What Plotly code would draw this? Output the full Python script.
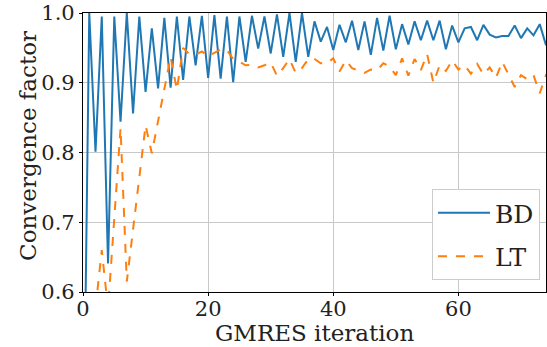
import plotly.graph_objects as go

iterations = list(range(0, 76))

bd = [0.30, 1.000, 0.801, 0.995, 0.641, 0.995, 0.844, 1.000, 0.856, 0.995,
      0.887, 0.978, 0.892, 0.993, 0.893, 0.995, 0.904, 0.995, 0.925, 0.996,
      0.907, 0.997, 0.906, 0.995, 0.901, 0.995, 0.930, 0.996, 0.949, 0.995,
      0.942, 0.998, 0.937, 1.000, 0.930, 1.000, 0.937, 0.988, 0.959, 0.980,
      0.947, 0.983, 0.958, 0.989, 0.947, 0.988, 0.940, 0.993, 0.946, 0.996,
      0.948, 0.984, 0.955, 0.988, 0.961, 0.989, 0.961, 0.989, 0.948, 0.982,
      0.958, 0.978, 0.980, 0.961, 0.983, 0.969, 0.965, 0.967, 0.967, 0.982,
      0.964, 0.978, 0.968, 0.984, 0.954, 0.970]

lt = [0.45, 0.55, 0.576, 0.660, 0.576, 0.710, 0.835, 0.615, 0.690, 0.763,
      0.839, 0.799, 0.846, 0.890, 0.937, 0.890, 0.950, 0.941, 0.940, 0.945,
      0.938, 0.943, 0.948, 0.947, 0.934, 0.930, 0.925, 0.926, 0.922, 0.925,
      0.929, 0.910, 0.921, 0.934, 0.914, 0.921, 0.934, 0.934, 0.928, 0.928,
      0.935, 0.916, 0.932, 0.921, 0.918, 0.914, 0.919, 0.918, 0.928, 0.923,
      0.911, 0.935, 0.910, 0.934, 0.918, 0.941, 0.900, 0.925, 0.917, 0.932,
      0.919, 0.925, 0.913, 0.927, 0.912, 0.922, 0.907, 0.930, 0.912, 0.894,
      0.911, 0.905, 0.911, 0.885, 0.911, 0.915]

x_ticks = [0, 20, 40, 60]
y_ticks = [0.6, 0.7, 0.8, 0.9, 1.0]

FONT = "DejaVu Serif"

fig = go.Figure()
fig.add_trace(go.Scatter(x=iterations, y=bd, mode="lines", name="BD", legendgroup="a",
                         line=dict(color="#1f77b4", width=2)))
fig.add_trace(go.Scatter(x=iterations, y=lt, mode="lines", name="LT", legendgroup="b",
                         line=dict(color="#ff7f0e", width=2, dash="dash")))

fig.update_layout(
    width=547, height=347,
    margin=dict(l=83, r=1, t=13, b=55),
    paper_bgcolor="white", plot_bgcolor="white",
    font=dict(family=FONT, size=21, color="#222"),
    legend=dict(x=0.987, y=0.043, xanchor="right", yanchor="bottom",
                bgcolor="white", bordercolor="#cccccc", borderwidth=1,
                font=dict(size=25, family=FONT), tracegroupgap=8, itemwidth=52),
    showlegend=True,
    annotations=[
        dict(text="GMRES iteration", xref="paper", yref="paper", x=0.5, y=-0.148,
             xanchor="center", yanchor="middle", showarrow=False,
             font=dict(size=23, family=FONT, color="#222")),
        dict(text="Convergence factor", xref="paper", yref="paper", x=-0.12, y=0.525,
             xanchor="center", yanchor="middle", showarrow=False, textangle=-90,
             font=dict(size=23, family=FONT, color="#222")),
    ],
)
fig.update_xaxes(range=[0, 74], tickvals=x_ticks, ticks="outside", ticklen=3,
                 ticklabelstandoff=-5,
                 tickcolor="black", showline=True, linecolor="black", linewidth=1.2,
                 mirror=True, showgrid=True, gridcolor="#c8c8c8", gridwidth=1.2,
                 zeroline=False, automargin=False,
                 tickfont=dict(family=FONT, size=21))
fig.update_yaxes(range=[0.6, 1.0], tickvals=y_ticks, tickformat=".1f", ticks="outside",
                 ticklen=3, tickcolor="black", showline=True, linecolor="black",
                 linewidth=1.2, mirror=True, showgrid=True, gridcolor="#c8c8c8",
                 gridwidth=1.2, zeroline=False, automargin=False,
                 tickfont=dict(family=FONT, size=21))

fig.write_html("out.html")
